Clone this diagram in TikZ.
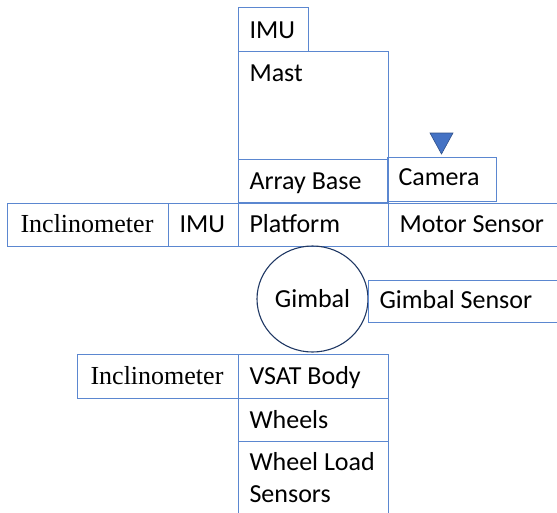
\documentclass[tikz,border=0pt]{standalone}
\usepackage{fontspec}
\setmainfont{Carlito}
\newfontfamily\timesfont{Liberation Serif}
\usetikzlibrary{shapes.geometric}
\definecolor{boxblue}{HTML}{5B87D0}
\definecolor{navy}{HTML}{203864}
\definecolor{triblue}{HTML}{4472C4}
\begin{document}
\begin{tikzpicture}[x=1pt,y=-1pt,
  box/.style={draw=boxblue, line width=1.1pt, rectangle, anchor=north west,
    inner xsep=11pt, inner ysep=0pt, align=flush left,
    text height=30pt, text depth=13pt,
    font=\fontsize{26}{32}\selectfont},
  serifbox/.style={box, inner xsep=13pt, font=\fontsize{26}{30}\timesfont},
  gimbal/.style={draw=navy, line width=1.1pt, ellipse, inner sep=0pt,
    minimum width=111pt, minimum height=106pt,
    font=\fontsize{26}{30}\selectfont},
  tri/.style={fill=triblue, draw=triblue!70!black, line width=0.6pt}
]
\useasboundingbox (0,0) rectangle (557,512);
% top stack
\node[box, text width=48pt, text height=31pt, text depth=13pt] (imutop) at (238,7) {IMU};
\node[box, text width=128pt, text height=30pt, text depth=78pt] (mast) at (238,51) {Mast};
\node[box, text width=128pt] (arraybase) at (238,159) {Array Base};
\node[box, text width=87pt, text height=28pt, text depth=16pt] (camera) at (387,157) {Camera};
\fill[tri] (430,133) -- (453,133) -- (441.5,154) -- cycle;
% platform row
\node[serifbox, text width=135pt, text height=29pt, text depth=14pt] (incl1) at (7,203) {Inclinometer};
\node[box, text width=48pt, text height=29pt, text depth=14pt] (imu2) at (168,203) {IMU};
\node[box, text width=128pt, text height=29pt, text depth=14pt] (platform) at (238,203) {Platform};
\node[box, text width=160pt, text height=29pt, text depth=14pt] (motor) at (388,203) {Motor Sensor};
% gimbal
\node[gimbal] (gimbal) at (312.5,299) {Gimbal};
\node[box, text width=180pt, text height=28pt, text depth=14pt] (gsensor) at (368,280) {Gimbal Sensor};
% lower stack
\node[serifbox, text width=135pt, text height=30pt, text depth=14pt] (incl2) at (77,354) {Inclinometer};
\node[box, text width=128pt, text height=30pt, text depth=14pt] (vsat) at (238,354) {VSAT Body};
\node[box, text width=128pt, text height=30pt, text depth=13pt] (wheels) at (238,398) {Wheels};
\node[box, text width=128pt, text height=29pt, text depth=60pt] (wls) at (238,441) {Wheel Load\\Sensors};
\end{tikzpicture}
\end{document}
